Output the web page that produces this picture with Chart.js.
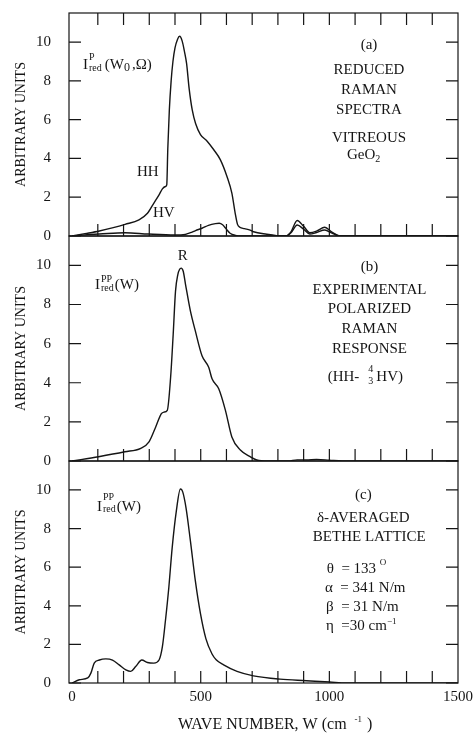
<!DOCTYPE html>
<html>
<head>
<meta charset="utf-8">
<script src="https://cdn.jsdelivr.net/npm/chart.js@4"></script>
<style>
html, body { margin: 0; padding: 0; background: #fff; }
canvas { position: absolute; left: 0; top: 0; }
</style>
</head>
<body>
<canvas id="pa" width="473" height="733"></canvas>
<canvas id="pb" width="473" height="733"></canvas>
<canvas id="pc" width="473" height="733"></canvas>
<script>
// (a) reduced Raman spectra, HH and HV
const hhW = [0, 50, 106, 160, 206, 260, 293, 318, 338, 351, 363, 368, 372, 378, 385, 392, 400, 410, 418, 428, 437, 445, 455, 467, 480, 499, 525, 550, 576, 602, 621, 634, 643, 652, 670, 692, 705, 757, 795, 830, 850, 875, 900, 924, 950, 982, 1010, 1040, 1200, 1500];
const hhI = [0, 0.12, 0.26, 0.43, 0.6, 0.83, 1.17, 1.7, 2.12, 2.43, 2.55, 2.64, 4.5, 6.5, 8.0, 9.0, 9.7, 10.15, 10.3, 10.05, 9.5, 8.9, 7.6, 6.5, 5.8, 5.23, 4.89, 4.46, 3.94, 3.07, 2.21, 1.17, 0.6, 0.45, 0.38, 0.3, 0.22, 0.09, 0.02, 0, 0.2, 0.8, 0.5, 0.17, 0.25, 0.45, 0.2, 0, 0, 0];
const hvW = [0, 50, 106, 206, 296, 400, 440, 460, 480, 505, 530, 557, 572, 585, 598, 614, 635, 660, 830, 850, 875, 900, 924, 950, 982, 1010, 1040, 1500];
const hvI = [0, 0.06, 0.1, 0.17, 0.1, 0.05, 0.08, 0.17, 0.28, 0.4, 0.55, 0.64, 0.66, 0.58, 0.38, 0.14, 0.03, 0, 0, 0.15, 0.57, 0.35, 0.1, 0.18, 0.31, 0.15, 0, 0];

// (b) experimental polarized response R
const rW = [0, 103, 205, 267, 299, 325, 347, 357, 370, 383, 393, 402, 411, 418, 424, 432, 441, 460, 479, 505, 531, 544, 570, 596, 621, 654, 692, 718, 760, 840, 875, 910, 950, 1000, 1050, 1500];
const rI = [0, 0.22, 0.47, 0.65, 0.98, 1.74, 2.42, 2.5, 2.59, 4.28, 6.48, 8.68, 9.53, 9.8, 9.86, 9.7, 9.02, 7.66, 6.65, 5.38, 4.79, 4.2, 3.69, 2.59, 1.23, 0.56, 0.22, 0.05, 0, 0, 0.06, 0.05, 0.08, 0.04, 0, 0];

// (c) delta-averaged Bethe lattice
const bW = [0, 28, 61, 73, 86, 106, 131, 157, 183, 209, 228, 247, 271, 293, 318, 338, 351, 363, 376, 389, 405, 421, 430, 443, 460, 479, 499, 520, 544, 560, 589, 641, 705, 808, 911, 1001, 1066, 1500];
const bI = [0, 0.17, 0.26, 0.51, 1.03, 1.19, 1.25, 1.19, 0.94, 0.68, 0.6, 0.85, 1.19, 1.06, 1.03, 1.19, 1.88, 3.25, 4.95, 7.0, 8.89, 10.05, 9.9, 9.06, 7.35, 5.3, 3.59, 2.3, 1.5, 1.2, 0.94, 0.6, 0.37, 0.2, 0.12, 0.05, 0, 0];

const yTicks = [0, 2, 4, 6, 8, 10];
const xMinor = [100, 200, 300, 400, 500, 600, 700, 800, 900, 1000, 1100, 1200, 1300, 1400];
const xLabels = [0, 500, 1000, 1500];

const serif = "'Liberation Serif', 'DejaVu Serif', serif";
const ink = '#151515';

function pts(ws, is) {
    return ws.map((w, i) => ({ x: w, y: is[i] }));
}

// draw a row of text pieces, left to right, from one baseline
function runs(ctx, x, y, list) {
    ctx.textAlign = 'left';
    for (const r of list) {
        if (r.sup !== undefined) {
            ctx.font = r.s + 'px ' + serif;
            ctx.fillText(r.sup, x, y + r.supDy);
            ctx.fillText(r.sub, x, y + r.subDy);
            x += Math.max(ctx.measureText(r.sup).width, ctx.measureText(r.sub).width) + (r.gap || 0);
        } else {
            ctx.font = r.s + 'px ' + serif;
            ctx.fillText(r.t, x, y + (r.dy || 0));
            x += ctx.measureText(r.t).width + (r.gap || 0);
        }
    }
}

function centred(ctx, lines, x) {
    ctx.textAlign = 'center';
    ctx.font = '15px ' + serif;
    for (const [t, y] of lines) ctx.fillText(t, x, y);
}

function framePlugin(topTicks, notes) {
    return {
        id: 'frame',
        afterDatasetsDraw(chart) {
            const { ctx, chartArea: a } = chart;
            const x = chart.scales.x, y = chart.scales.y;
            ctx.save();
            ctx.strokeStyle = ink;
            ctx.lineWidth = 1.2;
            ctx.strokeRect(a.left, a.top, a.right - a.left, a.bottom - a.top);
            ctx.beginPath();
            for (const v of yTicks) {
                const py = y.getPixelForValue(v);
                ctx.moveTo(a.left, py); ctx.lineTo(a.left + 12, py);
                ctx.moveTo(a.right, py); ctx.lineTo(a.right - 12, py);
            }
            for (const v of xMinor) {
                const px = x.getPixelForValue(v);
                ctx.moveTo(px, a.bottom); ctx.lineTo(px, a.bottom - 12);
                if (topTicks) { ctx.moveTo(px, a.top); ctx.lineTo(px, a.top + 12); }
            }
            ctx.stroke();
            ctx.fillStyle = ink;
            ctx.textBaseline = 'alphabetic';
            notes(ctx);
            ctx.restore();
        }
    };
}

function panel(id, top, bottom, series, showX, topTicks, notes) {
    return new Chart(document.getElementById(id), {
        type: 'line',
        data: {
            datasets: series.map(s => ({
                data: s,
                borderColor: ink,
                borderWidth: 1.4,
                pointRadius: 0,
                fill: false,
                cubicInterpolationMode: 'monotone'
            }))
        },
        options: {
            responsive: false,
            animation: false,
            events: [],
            layout: { padding: { left: 0, right: 473 - 458, top: top, bottom: showX ? 0 : 733 - bottom } },
            plugins: { legend: { display: false }, tooltip: { enabled: false } },
            scales: {
                x: {
                    type: 'linear', min: -12, max: 1500, display: showX,
                    afterBuildTicks: s => { s.ticks = xLabels.map(v => ({ value: v })); },
                    afterFit: s => {
                        if (showX) s.height = 733 - bottom;
                        s.paddingLeft = 0; s.paddingRight = 0;
                    },
                    grid: { display: false, drawTicks: false }, border: { display: false },
                    ticks: { color: ink, font: { family: serif, size: 15 }, padding: 5, maxRotation: 0, autoSkip: false,
                             callback: v => String(v) }
                },
                y: {
                    min: 0, max: 11.5,
                    afterBuildTicks: s => { s.ticks = yTicks.map(v => ({ value: v })); },
                    afterFit: s => { s.width = 69; s.paddingTop = 0; s.paddingBottom = 0; },
                    grid: { display: false, drawTicks: false }, border: { display: false },
                    ticks: { color: ink, font: { family: serif, size: 15 }, padding: 18 },
                    title: { display: true, text: 'ARBITRARY UNITS', color: ink, font: { family: serif, size: 14 }, padding: { top: 13, bottom: 0 } }
                }
            }
        },
        plugins: [framePlugin(topTicks, notes)]
    });
}

panel('pa', 13, 236, [pts(hhW, hhI), pts(hvW, hvI)], false, true, ctx => {
    runs(ctx, 83, 68.5, [
        { t: 'I', s: 15, gap: 1 },
        { sup: 'P', sub: 'red', s: 10, supDy: -8.5, subDy: 2, gap: 3 },
        { t: '(W', s: 15 }, { t: '0', s: 12, dy: 2, gap: 2 }, { t: ',Ω)', s: 15 }
    ]);
    centred(ctx, [['(a)', 49], ['REDUCED', 74.3], ['RAMAN', 94.3], ['SPECTRA', 114.3], ['VITREOUS', 142.3]], 369);
    runs(ctx, 347, 159, [{ t: 'GeO', s: 15 }, { t: '2', s: 10, dy: 3 }]);
    runs(ctx, 137, 175.5, [{ t: 'HH', s: 15 }]);
    runs(ctx, 153, 217, [{ t: 'HV', s: 15 }]);
});

panel('pb', 236, 461, [pts(rW, rI)], false, false, ctx => {
    centred(ctx, [['R', 259.5]], 182.7);
    runs(ctx, 95, 289.3, [
        { t: 'I', s: 15, gap: 1 },
        { sup: 'PP', sub: 'red', s: 10, supDy: -7, subDy: 1.5, gap: 1 },
        { t: '(W)', s: 15 }
    ]);
    centred(ctx, [['(b)', 270.5], ['EXPERIMENTAL', 294], ['POLARIZED', 313.3], ['RAMAN', 333.3], ['RESPONSE', 353.3]], 369.5);
    runs(ctx, 327.7, 380.7, [{ t: '(HH-', s: 15, gap: 9 }, { sup: '4', sub: '3', s: 10, supDy: -9, subDy: 3.3, gap: 3 }, { t: 'HV)', s: 15 }]);
});

panel('pc', 461, 683, [pts(bW, bI)], true, false, ctx => {
    runs(ctx, 97, 510.5, [
        { t: 'I', s: 15, gap: 1 },
        { sup: 'PP', sub: 'red', s: 10, supDy: -11, subDy: 1.5, gap: 1 },
        { t: '(W)', s: 15 }
    ]);
    centred(ctx, [['(c)', 498.7], ['δ-AVERAGED', 521.7]], 363.3);
    centred(ctx, [['BETHE LATTICE', 541]], 369.3);
    runs(ctx, 326.7, 573.3, [{ t: 'θ  = 133 ', s: 15 }, { t: 'O', s: 9, dy: -8 }]);
    runs(ctx, 325, 592, [{ t: 'α  = 341 N/m', s: 15 }]);
    runs(ctx, 326, 611, [{ t: 'β  = 31 N/m', s: 15 }]);
    runs(ctx, 326, 630, [{ t: 'η  =30 cm', s: 15 }, { t: '−1', s: 9, dy: -6 }]);
    // x axis title
    runs(ctx, 178, 728.5, [{ t: 'WAVE NUMBER, W (cm', s: 16, gap: 8 }, { t: '-1', s: 9, dy: -7, gap: 5 }, { t: ')', s: 16 }]);
});
</script>
</body>
</html>
